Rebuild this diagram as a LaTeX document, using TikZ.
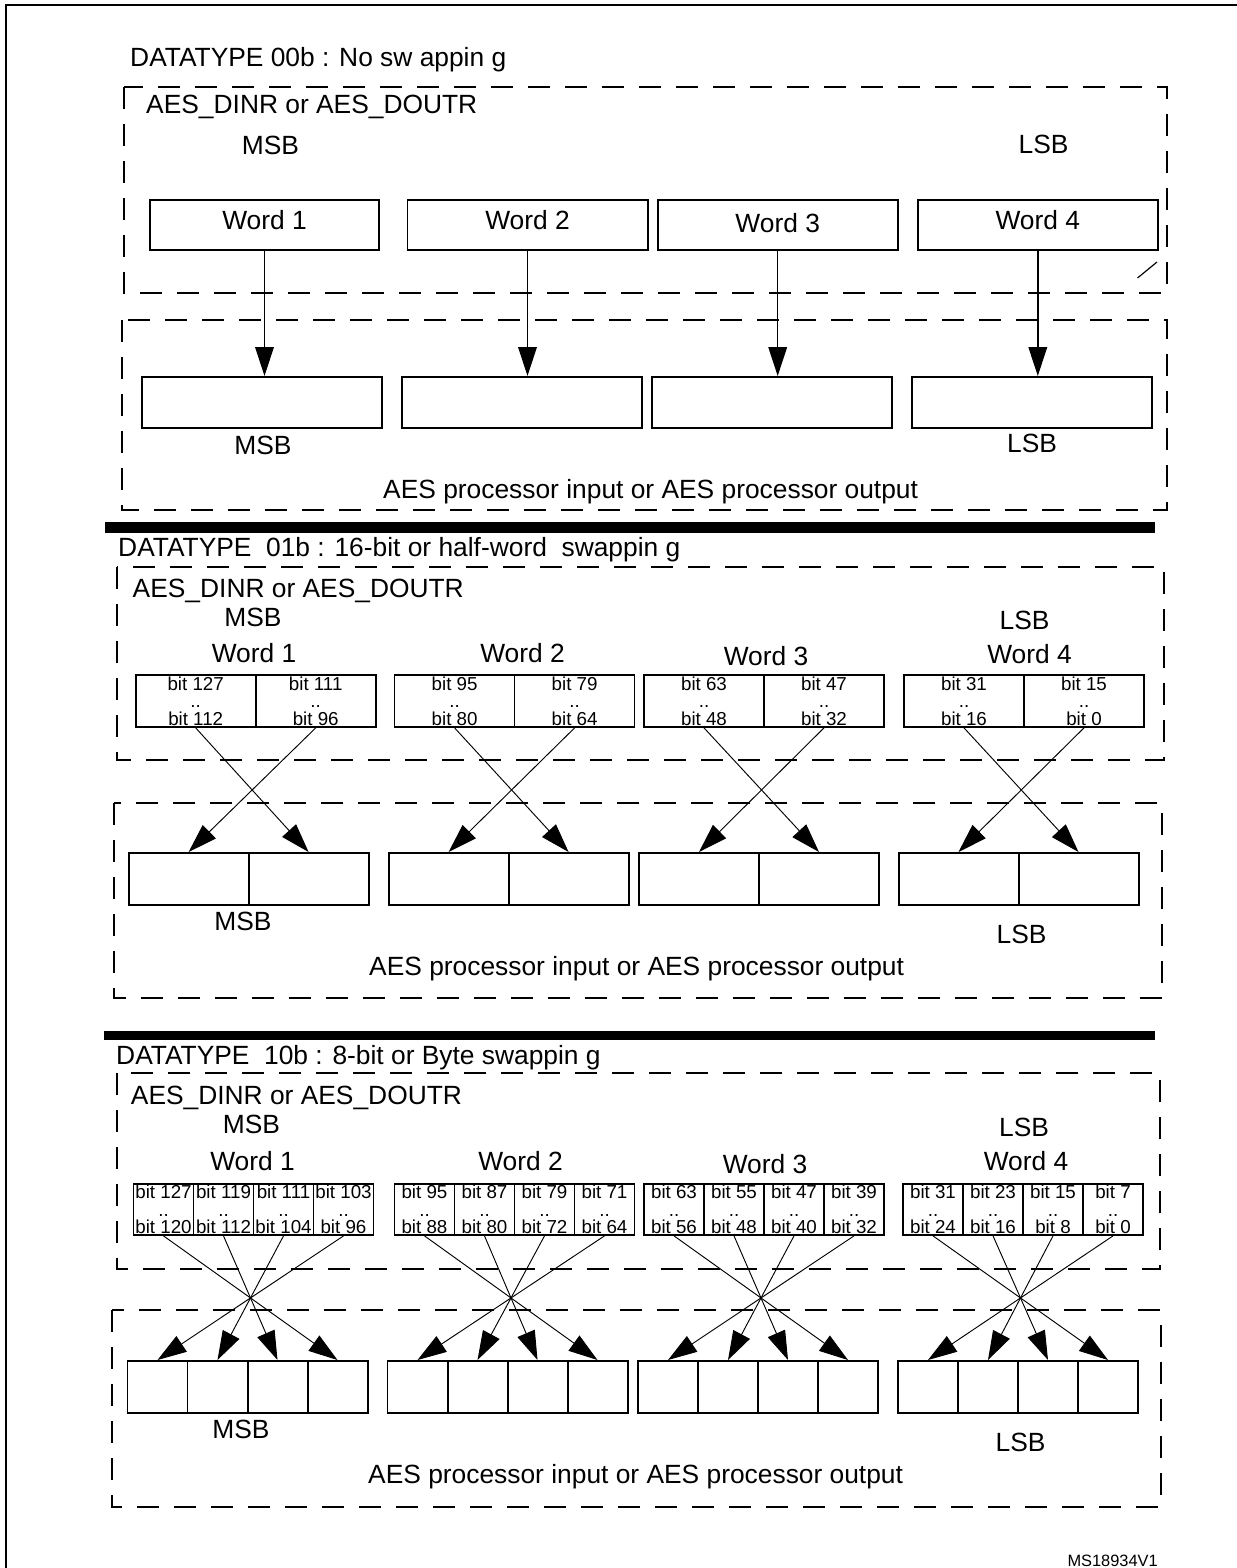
\documentclass[tikz,border=0pt]{standalone}
\usepackage{fontspec}
\setmainfont{Liberation Sans}
\usetikzlibrary{arrows.meta}

\begin{document}
\begin{tikzpicture}[x=0.03cm, y=-0.03cm,
    txt/.style={inner sep=0pt, font=\fontsize{22.5}{27}\selectfont},
    dashbox/.style={line width=1.7pt, dash pattern=on 0.66cm off 0.45cm},
    wordbox/.style={draw, line width=1.7pt, minimum width=7.2cm, minimum height=1.5cm, inner sep=0pt, text height=16pt, text depth=7.5pt, font=\fontsize{22.5}{27}\selectfont},
    outbox/.style={draw, line width=1.7pt, minimum width=7.2cm, minimum height=1.53cm, inner sep=0pt},
    halfcell/.style={draw, line width=1.5pt, minimum width=3.6cm, minimum height=1.56cm, inner sep=0pt, align=center, font=\fontsize{16}{15}\selectfont},
    bytecell/.style={draw, line width=1.5pt, minimum width=1.8cm, minimum height=1.53cm, inner sep=0pt, align=center, font=\fontsize{16}{15}\selectfont},
    halfout/.style={draw, line width=1.7pt, minimum width=3.6cm, minimum height=1.56cm, inner sep=0pt},
    byteout/.style={draw, line width=1.7pt, minimum width=1.8cm, minimum height=1.56cm, inner sep=0pt},
    arr/.style={line width=1.2pt, -{Triangle[length=0.87cm, width=0.56cm]}},
    xarr/.style={line width=0.8pt, -{Triangle[length=0.87cm, width=0.56cm]}}]
    \useasboundingbox (0,0) rectangle (1237,1568);
    \draw[line width=1.7pt] (6,1580) -- (6,5) -- (1250,5); % frame

    % ---- datatype 00b
    \node[txt, anchor=base west] (t1) at (130,66.7) {DATATYPE 00b : No sw appin g};
    \draw[dashbox] (124,87) rectangle (1167,293); % register
    \node[txt, anchor=base west] (r1) at (146,113) {AES\_DINR or AES\_DOUTR};
    \node[txt, anchor=base] (m1) at (270.5,154) {MSB};
    \node[txt, anchor=base] (l1) at (1043.5,153) {LSB};
    \node[wordbox, minimum width=6.87cm] (w1) at (264.5,225) {Word 1};
    \node[wordbox] (w2) at (527.5,225) {Word 2};
    \node[wordbox, text depth=4pt] (w3) at (777.7,225) {Word 3};
    \node[wordbox] (w4) at (1037.8,225) {Word 4};
    \draw[line width=1pt] (1137.5,278) -- (1157,262); % stray mark
    \draw[dashbox] (122,320) rectangle (1167,510); % processor
    \node[outbox] (o1) at (262,402.5) {};
    \node[outbox] (o2) at (522,402.5) {};
    \node[outbox] (o3) at (772,402.5) {};
    \node[outbox] (o4) at (1032,402.5) {};
    \draw[arr] (w1.south) -- (w1.south |- o1.north); % word 1
    \draw[arr] (w2.south) -- (w2.south |- o2.north); % word 2
    \draw[arr] (w3.south) -- (w3.south |- o3.north); % word 3
    \draw[arr] (w4.south) -- (w4.south |- o4.north); % word 4
    \node[txt, anchor=base] (mo1) at (263,454) {MSB};
    \node[txt, anchor=base] (lo1) at (1032,452) {LSB};
    \node[txt, anchor=base west] (p1) at (383,498) {AES processor input or AES processor output};
    \fill (105,522) rectangle (1155,533); % bar

    % ---- datatype 01b
    \node[txt, anchor=base west] (t2) at (118,556) {DATATYPE\ \ 01b : 16-bit or half-word\ \ swappin g};
    \draw[dashbox] (117,567) rectangle (1164,760); % register
    \node[txt, anchor=base west] (r2) at (132.5,597) {AES\_DINR or AES\_DOUTR};
    \node[txt, anchor=base] (m2) at (253,626) {MSB};
    \node[txt, anchor=base] (l2) at (1024.5,629) {LSB};
    \node[txt, anchor=base] (hw1) at (254,662) {Word 1};
    \node[txt, anchor=base] (hw2) at (522.5,662) {Word 2};
    \node[txt, anchor=base] (hw3) at (766,665) {Word 3};
    \node[txt, anchor=base] (hw4) at (1029.5,663) {Word 4};
    \node[halfcell] (h1a) at (195.7,701) {bit 127\\..\\bit 112};
    \node[halfcell] (h1b) at (315.7,701) {bit 111\\..\\bit 96};
    \node[halfcell] (h2a) at (454.6,701) {bit 95\\..\\bit 80};
    \node[halfcell] (h2b) at (574.6,701) {bit 79\\..\\bit 64};
    \node[halfcell] (h3a) at (704,701) {bit 63\\..\\bit 48};
    \node[halfcell] (h3b) at (824,701) {bit 47\\..\\bit 32};
    \node[halfcell] (h4a) at (964,701) {bit 31\\..\\bit 16};
    \node[halfcell] (h4b) at (1084,701) {bit 15\\..\\bit 0};
    \draw[dashbox] (113.6,803) rectangle (1162,998); % processor
    \node[halfout] (ho1a) at (188.6,879) {};
    \node[halfout] (ho1b) at (308.6,879) {};
    \node[halfout] (ho2a) at (448.6,879) {};
    \node[halfout] (ho2b) at (568.6,879) {};
    \node[halfout] (ho3a) at (699,879) {};
    \node[halfout] (ho3b) at (819,879) {};
    \node[halfout] (ho4a) at (958.5,879) {};
    \node[halfout] (ho4b) at (1078.5,879) {};
    \draw[xarr] (h1a.south) -- (ho1b.north); % swap word 1
    \draw[xarr] (h1b.south) -- (ho1a.north);
    \draw[xarr] (h2a.south) -- (ho2b.north); % swap word 2
    \draw[xarr] (h2b.south) -- (ho2a.north);
    \draw[xarr] (h3a.south) -- (ho3b.north); % swap word 3
    \draw[xarr] (h3b.south) -- (ho3a.north);
    \draw[xarr] (h4a.south) -- (ho4b.north); % swap word 4
    \draw[xarr] (h4b.south) -- (ho4a.north);
    \node[txt, anchor=base] (mo2) at (243,930.7) {MSB};
    \node[txt, anchor=base] (lo2) at (1021.5,943) {LSB};
    \node[txt, anchor=base west] (p2) at (369,975) {AES processor input or AES processor output};
    \fill (104,1031) rectangle (1155,1040); % bar

    % ---- datatype 10b
    \node[txt, anchor=base west] (t3) at (116,1064) {DATATYPE\ \ 10b : 8-bit or Byte swappin g};
    \draw[dashbox] (116.7,1073) rectangle (1160,1269); % register
    \node[txt, anchor=base west] (r3) at (130.7,1104) {AES\_DINR or AES\_DOUTR};
    \node[txt, anchor=base] (m3) at (251.5,1133) {MSB};
    \node[txt, anchor=base] (l3) at (1024,1136) {LSB};
    \node[txt, anchor=base] (bw1) at (252.5,1170) {Word 1};
    \node[txt, anchor=base] (bw2) at (520.5,1170) {Word 2};
    \node[txt, anchor=base] (bw3) at (765,1173) {Word 3};
    \node[txt, anchor=base] (bw4) at (1026,1170) {Word 4};
    \node[bytecell] (b1a) at (163.5,1209.5) {bit 127\\..\\bit 120};
    \node[bytecell] (b1b) at (223.5,1209.5) {bit 119\\..\\bit 112};
    \node[bytecell] (b1c) at (283.5,1209.5) {bit 111\\..\\bit 104};
    \node[bytecell] (b1d) at (343.5,1209.5) {bit 103\\..\\bit 96};
    \node[bytecell] (b2a) at (424.5,1209.5) {bit 95\\..\\bit 88};
    \node[bytecell] (b2b) at (484.5,1209.5) {bit 87\\..\\bit 80};
    \node[bytecell] (b2c) at (544.5,1209.5) {bit 79\\..\\bit 72};
    \node[bytecell] (b2d) at (604.5,1209.5) {bit 71\\..\\bit 64};
    \node[bytecell] (b3a) at (674,1209.5) {bit 63\\..\\bit 56};
    \node[bytecell] (b3b) at (734,1209.5) {bit 55\\..\\bit 48};
    \node[bytecell] (b3c) at (794,1209.5) {bit 47\\..\\bit 40};
    \node[bytecell] (b3d) at (854,1209.5) {bit 39\\..\\bit 32};
    \node[bytecell] (b4a) at (933,1209.5) {bit 31\\..\\bit 24};
    \node[bytecell] (b4b) at (993,1209.5) {bit 23\\..\\bit 16};
    \node[bytecell] (b4c) at (1053,1209.5) {bit 15\\..\\bit 8};
    \node[bytecell] (b4d) at (1113,1209.5) {bit 7\\..\\bit 0};
    \draw[dashbox] (112,1310) rectangle (1160.7,1507); % processor
    \node[byteout] (bo1a) at (157.5,1387) {};
    \node[byteout] (bo1b) at (217.5,1387) {};
    \node[byteout] (bo1c) at (277.5,1387) {};
    \node[byteout] (bo1d) at (337.5,1387) {};
    \node[byteout] (bo2a) at (417.5,1387) {};
    \node[byteout] (bo2b) at (477.5,1387) {};
    \node[byteout] (bo2c) at (537.5,1387) {};
    \node[byteout] (bo2d) at (597.5,1387) {};
    \node[byteout] (bo3a) at (668,1387) {};
    \node[byteout] (bo3b) at (728,1387) {};
    \node[byteout] (bo3c) at (788,1387) {};
    \node[byteout] (bo3d) at (848,1387) {};
    \node[byteout] (bo4a) at (928,1387) {};
    \node[byteout] (bo4b) at (988,1387) {};
    \node[byteout] (bo4c) at (1048,1387) {};
    \node[byteout] (bo4d) at (1108,1387) {};
    \draw[xarr] (b1a.south) -- (bo1d.north); % swap word 1
    \draw[xarr] (b1b.south) -- (bo1c.north);
    \draw[xarr] (b1c.south) -- (bo1b.north);
    \draw[xarr] (b1d.south) -- (bo1a.north);
    \draw[xarr] (b2a.south) -- (bo2d.north); % swap word 2
    \draw[xarr] (b2b.south) -- (bo2c.north);
    \draw[xarr] (b2c.south) -- (bo2b.north);
    \draw[xarr] (b2d.south) -- (bo2a.north);
    \draw[xarr] (b3a.south) -- (bo3d.north); % swap word 3
    \draw[xarr] (b3b.south) -- (bo3c.north);
    \draw[xarr] (b3c.south) -- (bo3b.north);
    \draw[xarr] (b3d.south) -- (bo3a.north);
    \draw[xarr] (b4a.south) -- (bo4d.north); % swap word 4
    \draw[xarr] (b4b.south) -- (bo4c.north);
    \draw[xarr] (b4c.south) -- (bo4b.north);
    \draw[xarr] (b4d.south) -- (bo4a.north);
    \node[txt, anchor=base] (mo3) at (241,1438) {MSB};
    \node[txt, anchor=base] (lo3) at (1020.5,1451) {LSB};
    \node[txt, anchor=base west] (p3) at (368,1483) {AES processor input or AES processor output};
    \node[inner sep=0pt, anchor=base east, font=\fontsize{14}{17}\selectfont] (ms) at (1158,1566) {MS18934V1};
\end{tikzpicture}
\end{document}
